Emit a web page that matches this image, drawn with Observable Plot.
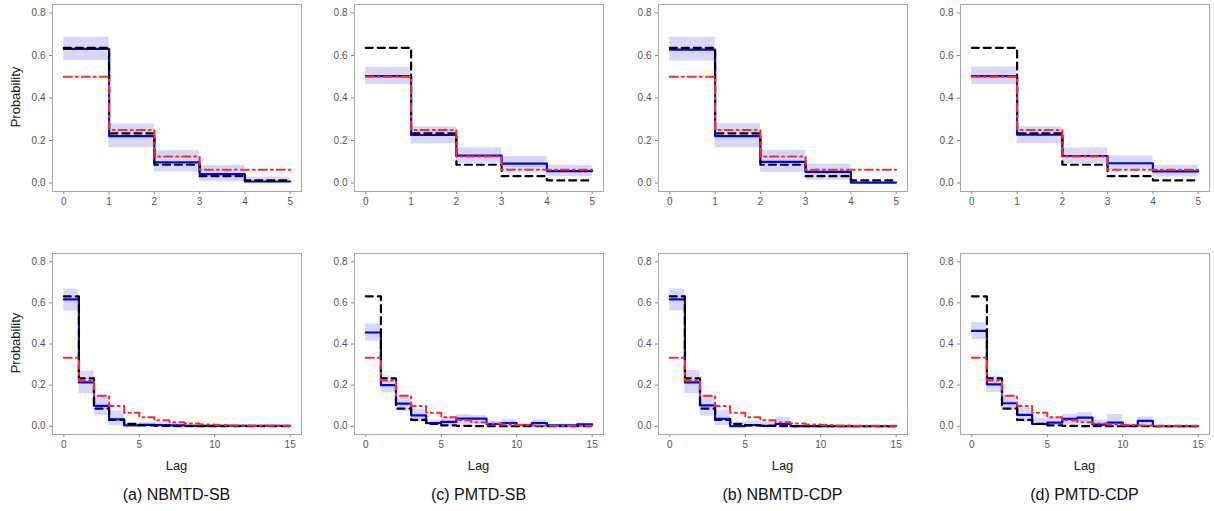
<!DOCTYPE html>
<html>
<head>
<meta charset="utf-8">
<script src="https://cdn.jsdelivr.net/npm/d3@7"></script>
<script src="https://cdn.jsdelivr.net/npm/@observablehq/plot@0.6"></script>
<style>
  html, body { margin: 0; padding: 0; background: #fff; }
  #wrap { position: relative; width: 1214px; height: 511px; font-family: "Liberation Sans", Arial, sans-serif; }
  .panel { position: absolute; }
  .lag { position: absolute; font-size: 13px; color: #222; transform: translate(-50%, -50%); white-space: nowrap; }
  .cap { position: absolute; font-size: 16px; color: #111; transform: translate(-50%, -50%); white-space: nowrap; }
  .ylab { position: absolute; font-size: 13px; color: #222; transform: translate(-50%, -50%) rotate(-90deg); white-space: nowrap; }
</style>
</head>
<body>
<div id="wrap"></div>
<script>
// ---------- data ----------
const captions = ["(a) NBMTD-SB", "(c) PMTD-SB", "(b) NBMTD-CDP", "(d) PMTD-CDP"];
const yTicks = [0, 0.2, 0.4, 0.6, 0.8];
const xTicksTop = [0, 1, 2, 3, 4, 5];
const xTicksBottom = [0, 5, 10, 15];

// top row: 5 lags
const truthTop = [0.636, 0.234, 0.086, 0.032, 0.012];
const priorTop = [0.5, 0.25, 0.125, 0.0625, 0.0625];
const meanTopA = [0.631, 0.221, 0.097, 0.042, 0.007];
const loTopA   = [0.576, 0.166, 0.052, 0.006, 0.000];
const hiTopA   = [0.686, 0.278, 0.152, 0.082, 0.028];
const meanTopC = [0.503, 0.226, 0.129, 0.091, 0.056];
const loTopC   = [0.463, 0.184, 0.093, 0.058, 0.030];
const hiTopC   = [0.544, 0.264, 0.165, 0.124, 0.083];
const meanTopB = [0.628, 0.221, 0.099, 0.052, 0.002];
const loTopB   = [0.574, 0.166, 0.049, 0.013, 0.000];
const hiTopB   = [0.686, 0.279, 0.154, 0.089, 0.006];
const meanTopD = [0.503, 0.227, 0.127, 0.093, 0.055];
const loTopD   = [0.463, 0.185, 0.091, 0.058, 0.028];
const hiTopD   = [0.546, 0.264, 0.165, 0.127, 0.083];

// bottom row: 15 lags
const truthBot = [0.632, 0.233, 0.086, 0.031, 0.012, 0.004, 0.002, 0.001, 0, 0, 0, 0, 0, 0, 0];
const priorBot = [0.333, 0.222, 0.148, 0.099, 0.066, 0.044, 0.029, 0.020, 0.013, 0.009, 0.006, 0.004, 0.003, 0.002, 0.003];
const meanBotA = [0.617, 0.213, 0.099, 0.034, 0.004, 0.007, 0.006, 0.004, 0.002, 0.002, 0.002, 0.002, 0.002, 0.002, 0.002];
const loBotA   = [0.561, 0.158, 0.052, 0.003, 0, 0, 0, 0, 0, 0, 0, 0, 0, 0, 0];
const hiBotA   = [0.667, 0.268, 0.145, 0.073, 0.014, 0.018, 0.016, 0.012, 0.008, 0.007, 0.007, 0.006, 0.006, 0.006, 0.006];
const meanBotC = [0.456, 0.200, 0.110, 0.053, 0.016, 0.021, 0.037, 0.037, 0.011, 0.016, 0.005, 0.016, 0.004, 0.004, 0.009];
const loBotC   = [0.414, 0.163, 0.073, 0.021, 0.004, 0.004, 0.009, 0.012, 0.001, 0.002, 0, 0.002, 0, 0, 0.001];
const hiBotC   = [0.498, 0.239, 0.142, 0.082, 0.030, 0.045, 0.056, 0.052, 0.024, 0.032, 0.013, 0.030, 0.010, 0.010, 0.016];
const meanBotB = [0.617, 0.213, 0.102, 0.036, 0.001, 0.006, 0.002, 0.011, 0.001, 0.001, 0.001, 0.001, 0.001, 0.001, 0.001];
const loBotB   = [0.561, 0.158, 0.050, 0.003, 0, 0, 0, 0.006, 0, 0, 0, 0, 0, 0, 0];
const hiBotB   = [0.667, 0.271, 0.150, 0.078, 0.020, 0.025, 0.018, 0.044, 0.005, 0.005, 0.005, 0.005, 0.005, 0.005, 0.005];
const meanBotD = [0.464, 0.204, 0.112, 0.055, 0.011, 0.018, 0.036, 0.042, 0.008, 0.018, 0.002, 0.026, 0.000, 0.000, 0.000];
const loBotD   = [0.422, 0.165, 0.078, 0.021, 0.002, 0.003, 0.008, 0.016, 0, 0, 0, 0, 0, 0, 0];
const hiBotD   = [0.504, 0.242, 0.150, 0.086, 0.037, 0.045, 0.058, 0.066, 0.029, 0.057, 0.010, 0.045, 0.005, 0.005, 0.005];

const topPanels = [
  {mean: meanTopA, lo: loTopA, hi: hiTopA},
  {mean: meanTopC, lo: loTopC, hi: hiTopC},
  {mean: meanTopB, lo: loTopB, hi: hiTopB},
  {mean: meanTopD, lo: loTopD, hi: hiTopD}
];
const botPanels = [
  {mean: meanBotA, lo: loBotA, hi: hiBotA},
  {mean: meanBotC, lo: loBotC, hi: hiBotC},
  {mean: meanBotB, lo: loBotB, hi: hiBotB},
  {mean: meanBotD, lo: loBotD, hi: hiBotD}
];

// ---------- helpers ----------
function stepData(vals) {
  const pts = vals.map((v, i) => ({x: i, y: v}));
  pts.push({x: vals.length, y: vals[vals.length - 1]});
  return pts;
}
function bandData(lo, hi) {
  return lo.map((l, i) => ({x1: i, x2: i + 1, y1: l, y2: hi[i]}));
}

const colLefts = [0, 302, 606, 908];
const frameW = 249;
const mL = 52, mR = 2;

function makePanel(p, truth, prior, xDomain, xTicks, height) {
  return Plot.plot({
    width: mL + frameW + mR,
    height: height,
    marginLeft: mL,
    marginRight: mR,
    marginTop: 4,
    marginBottom: 21,
    style: {fontFamily: "'Liberation Sans', Arial, sans-serif", fontSize: "10px", color: "#555", background: "transparent"},
    x: {domain: xDomain},
    y: {domain: [-0.04, 0.84]},
    marks: [
      Plot.rect(bandData(p.lo, p.hi), {x1: "x1", x2: "x2", y1: "y1", y2: "y2", fill: "#d7d7fa"}),
      Plot.line(stepData(p.mean), {x: "x", y: "y", curve: "step-after", stroke: "#0000ff", strokeWidth: 2.2}),
      Plot.line(stepData(truth), {x: "x", y: "y", curve: "step-after", stroke: "#000", strokeWidth: 2.2, strokeDasharray: "7,5"}),
      Plot.line(stepData(prior), {x: "x", y: "y", curve: "step-after", stroke: "#ff2b2b", strokeWidth: 2, strokeDasharray: "8,4,2,4"}),
      Plot.frame({stroke: "#a8a8a8", strokeWidth: 1}),
      Plot.axisX({ticks: xTicks, tickSize: 3, tickPadding: 3, tickFormat: d3.format("d"), label: null, stroke: "#888"}),
      Plot.axisY({ticks: yTicks, tickSize: 3, tickPadding: 4, tickFormat: d3.format(".1f"), label: null, stroke: "#888"})
    ]
  });
}

const wrap = document.getElementById("wrap");
function place(el, left, top, cls) {
  el.classList.add(cls || "panel");
  el.style.left = left + "px";
  el.style.top = top + "px";
  wrap.appendChild(el);
}

topPanels.forEach((p, i) => {
  const svg = makePanel(p, truthTop, priorTop, [-0.25, 5.25], xTicksTop, 212);
  place(svg, colLefts[i], 0);
});
botPanels.forEach((p, i) => {
  const svg = makePanel(p, truthBot, priorBot, [-0.75, 15.75], xTicksBottom, 206);
  place(svg, colLefts[i], 249);
});

// y labels (first column)
[97, 343].forEach(y => {
  const d = document.createElement("div");
  d.className = "ylab";
  d.textContent = "Probability";
  d.style.left = "15px";
  d.style.top = y + "px";
  wrap.appendChild(d);
});

captions.forEach((c, i) => {
  const cx = colLefts[i] + mL + frameW / 2;
  const lag = document.createElement("div");
  lag.className = "lag";
  lag.textContent = "Lag";
  lag.style.left = cx + "px";
  lag.style.top = "465px";
  wrap.appendChild(lag);
  const cap = document.createElement("div");
  cap.className = "cap";
  cap.textContent = c;
  cap.style.left = cx + "px";
  cap.style.top = "495px";
  wrap.appendChild(cap);
});
</script>
</body>
</html>
